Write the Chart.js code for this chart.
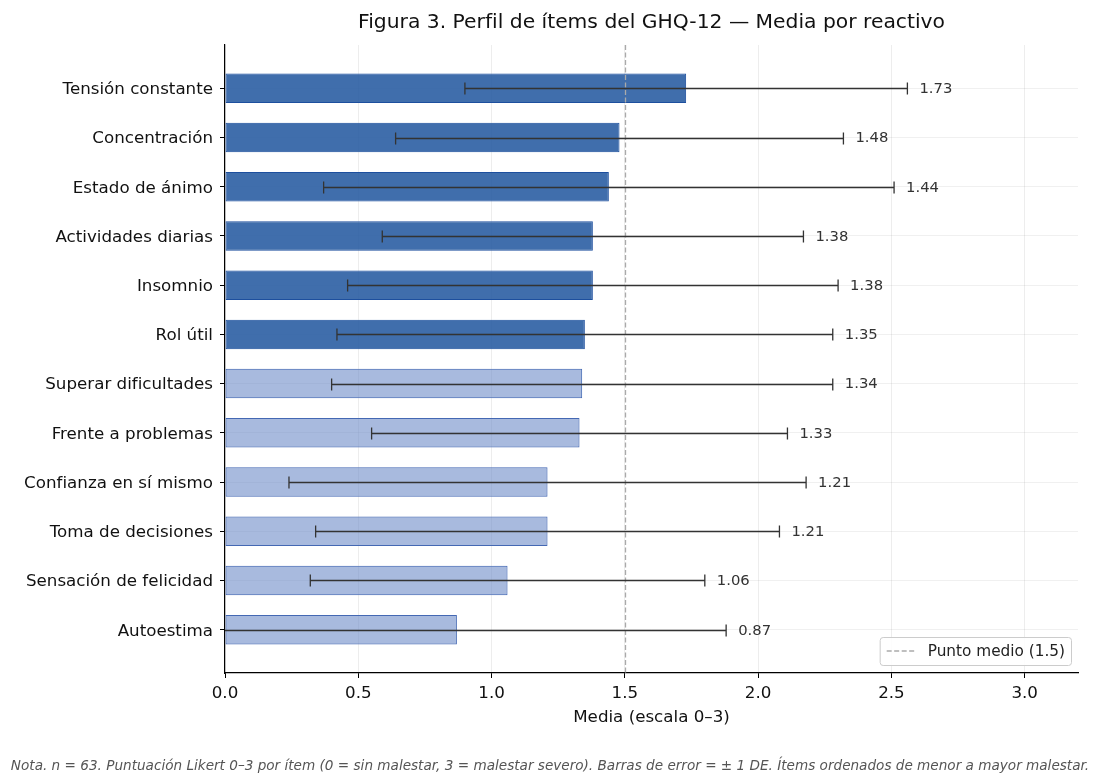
<!DOCTYPE html>
<html lang="es">
<head>
<meta charset="utf-8">
<title>Perfil de ítems del GHQ-12</title>
<script src="https://cdn.jsdelivr.net/npm/chart.js@4.4.1/dist/chart.umd.min.js"></script>
<style>
  html, body { margin: 0; padding: 0; background: #fff; }
  #wrap { width: 1100px; height: 784px; }
</style>
</head>
<body>
<div id="wrap"><canvas id="ghqChart" width="1100" height="784"></canvas></div>
<script>
document.addEventListener("DOMContentLoaded", function () {
  // Items ordered from top (mayor malestar) to bottom
  const items = [
    "Tensión constante",
    "Concentración",
    "Estado de ánimo",
    "Actividades diarias",
    "Insomnio",
    "Rol útil",
    "Superar dificultades",
    "Frente a problemas",
    "Confianza en sí mismo",
    "Toma de decisiones",
    "Sensación de felicidad",
    "Autoestima",
  ];
  const medias = [1.73, 1.48, 1.44, 1.38, 1.38, 1.35, 1.34, 1.33, 1.21, 1.21, 1.06, 0.87];
  const desviaciones = [0.83, 0.84, 1.07, 0.79, 0.92, 0.93, 0.94, 0.78, 0.97, 0.87, 0.74, 1.01];
  const xTicks = [0, 0.5, 1.0, 1.5, 2.0, 2.5, 3.0];
  const xMax = 3.2;
  const puntoMedio = 1.5;
  const umbralDestacado = 1.35; // top six items are drawn darker

  const titulo = "Figura 3. Perfil de ítems del GHQ-12 — Media por reactivo";
  const tituloEjeX = "Media (escala 0–3)";
  const etiquetaPuntoMedio = "Punto medio (1.5)";
  const nota =
    "Nota. n = 63. Puntuación Likert 0–3 por ítem (0 = sin malestar, 3 = malestar severo). Barras de error = ± 1 DE. Ítems ordenados de menor a mayor malestar.";

  const fontFamily = "'DejaVu Sans', Verdana, sans-serif";
  const margenY = 0.88;

  const fillColors = medias.map((m) =>
    m >= umbralDestacado ? "rgba(38, 90, 160, 0.88)" : "rgba(110, 140, 200, 0.6)"
  );
  const edgeColors = medias.map((m) => (m >= umbralDestacado ? "#1d4f9e" : "#4468b3"));

  // dashed midpoint line + error bars + value labels
  const overlays = {
    id: "overlays",
    afterDatasetsDraw(chart) {
      const { ctx, chartArea, scales } = chart;
      const x = scales.x;
      const y = scales.y;

      ctx.save();
      ctx.beginPath();
      ctx.rect(chartArea.left, chartArea.top, chartArea.width, chartArea.height);
      ctx.clip();

      // midpoint
      const xm = Math.round(x.getPixelForValue(puntoMedio)) + 0.5;
      ctx.strokeStyle = "#aaaaaa";
      ctx.lineWidth = 1.3;
      ctx.setLineDash([5, 2.5]);
      ctx.beginPath();
      ctx.moveTo(xm, chartArea.top);
      ctx.lineTo(xm, chartArea.bottom);
      ctx.stroke();
      ctx.setLineDash([]);

      // error bars
      ctx.strokeStyle = "#333333";
      ctx.lineWidth = 1.3;
      medias.forEach((m, i) => {
        const yp = Math.round(y.getPixelForValue(i)) + 0.5;
        const lo = x.getPixelForValue(m - desviaciones[i]);
        const hi = x.getPixelForValue(m + desviaciones[i]);
        ctx.beginPath();
        ctx.moveTo(lo, yp);
        ctx.lineTo(hi, yp);
        ctx.moveTo(lo, yp - 6);
        ctx.lineTo(lo, yp + 6);
        ctx.moveTo(hi, yp - 6);
        ctx.lineTo(hi, yp + 6);
        ctx.stroke();
      });
      ctx.restore();

      // value labels
      ctx.save();
      ctx.fillStyle = "#333333";
      ctx.font = "14.8px " + fontFamily;
      ctx.textAlign = "left";
      ctx.textBaseline = "middle";
      medias.forEach((m, i) => {
        const yp = y.getPixelForValue(i);
        const hi = x.getPixelForValue(m + desviaciones[i]);
        ctx.fillText(m.toFixed(2), hi + 12, yp + 1);
      });
      ctx.restore();
    },
  };

  // title, legend box and footnote
  const textos = {
    id: "textos",
    afterDraw(chart) {
      const { ctx, chartArea, width } = chart;
      ctx.save();

      ctx.fillStyle = "#111111";
      ctx.font = "20.3px " + fontFamily;
      ctx.textAlign = "center";
      ctx.textBaseline = "middle";
      ctx.fillText(titulo, (chartArea.left + chartArea.right) / 2, 23);

      // legend
      ctx.font = "15.3px " + fontFamily;
      const textW = ctx.measureText(etiquetaPuntoMedio).width;
      const boxW = textW + 54;
      const boxH = 28;
      const bx = chartArea.right - 7 - boxW;
      const by = chartArea.bottom - 8 - boxH;
      ctx.beginPath();
      ctx.roundRect(bx + 0.5, by + 0.5, boxW, boxH, 3);
      ctx.fillStyle = "rgba(255,255,255,0.85)";
      ctx.fill();
      ctx.strokeStyle = "#cccccc";
      ctx.lineWidth = 1;
      ctx.stroke();
      ctx.strokeStyle = "#aaaaaa";
      ctx.lineWidth = 1.3;
      ctx.setLineDash([5, 2.5]);
      ctx.beginPath();
      ctx.moveTo(bx + 7, by + boxH / 2);
      ctx.lineTo(bx + 37, by + boxH / 2);
      ctx.stroke();
      ctx.setLineDash([]);
      ctx.fillStyle = "#222222";
      ctx.textAlign = "left";
      ctx.fillText(etiquetaPuntoMedio, bx + 48, by + boxH / 2 + 1);

      // footnote
      ctx.fillStyle = "#555555";
      ctx.font = "italic 13.6px " + fontFamily;
      ctx.textAlign = "center";
      ctx.fillText(nota, width / 2, 766);
      ctx.restore();
    },
  };

  const ctx = document.getElementById("ghqChart").getContext("2d");
  const chart = new Chart(ctx, {
    type: "bar",
    data: {
      datasets: [
        {
          label: "Media",
          data: medias.map((m, i) => ({ x: m, y: i })),
          backgroundColor: fillColors,
          borderColor: edgeColors,
          borderWidth: 1,
          borderSkipped: false,
          barPercentage: 0.6,
          categoryPercentage: 1.0,
        },
      ],
    },
    options: {
      indexAxis: "y",
      responsive: false,
      devicePixelRatio: 1,
      animation: false,
      layout: {
        padding: { top: 45, right: 22, bottom: 27, left: 0 },
      },
      scales: {
        x: {
          type: "linear",
          min: 0,
          max: xMax,
          afterFit: (scale) => {
            scale.height = 84;
          },
          afterBuildTicks: (axis) => {
            axis.ticks = xTicks.map((v) => ({ value: v }));
          },
          ticks: {
            callback: (v) => Number(v).toFixed(1),
            color: "#111111",
            font: { family: fontFamily, size: 16.7 },
            padding: 6,
            maxRotation: 0,
          },
          grid: {
            color: "rgba(0,0,0,0.07)",
            tickColor: "#000000",
            tickLength: 5,
          },
          border: { color: "#000000", width: 1.2 },
          title: {
            display: true,
            text: tituloEjeX,
            color: "#111111",
            font: { family: fontFamily, size: 16.7 },
            padding: { top: 4, bottom: 29 },
          },
        },
        y: {
          type: "linear",
          reverse: true,
          offset: false,
          min: -margenY,
          max: items.length - 1 + margenY,
          afterFit: (scale) => {
            scale.width = 225;
          },
          afterBuildTicks: (axis) => {
            axis.ticks = items.map((_, i) => ({ value: i }));
          },
          ticks: {
            callback: (v) => items[v],
            color: "#111111",
            font: { family: fontFamily, size: 16.7 },
            padding: 7,
            labelOffset: 1.5,
          },
          grid: {
            offset: false,
            color: "rgba(0,0,0,0.06)",
            tickColor: "#000000",
            tickLength: 5,
          },
          border: { color: "#000000", width: 1.2 },
        },
      },
      plugins: {
        legend: { display: false },
        title: { display: false },
        tooltip: { enabled: false },
      },
    },
    plugins: [overlays, textos],
  });
});
</script>
</body>
</html>
